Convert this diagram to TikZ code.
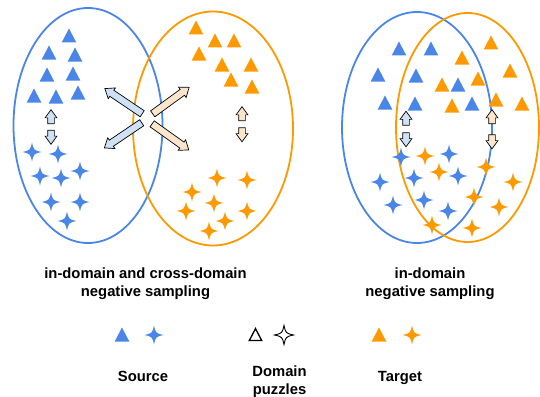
\documentclass[tikz,border=0pt]{standalone}
\usepackage{fontspec}
\setmainfont{Liberation Sans}
\usetikzlibrary{shapes.arrows}
\definecolor{cblue}{HTML}{4A86E8}
\definecolor{corange}{HTML}{FF9900}
\definecolor{lblue}{HTML}{CFE2F3}
\definecolor{lorange}{HTML}{FCE5CD}
\tikzset{
  tri/.pic={\path[pic actions] (0,-7.5) -- (7.3,6.5) -- (-7.3,6.5) -- cycle;},
  sparkle/.pic={\path[pic actions] (0,-9.5) .. controls (1.8,-1.8) .. (9.5,0) .. controls (1.8,1.8) .. (0,9.5) .. controls (-1.8,1.8) .. (-9.5,0) .. controls (-1.8,-1.8) .. (0,-9.5) -- cycle;},
  ring/.style={line width=1.8pt},
  bigarrow/.style={single arrow, draw=black, line width=0.7pt, inner sep=3.3pt, minimum height=45pt, single arrow head extend=2.8pt, single arrow tip angle=75},
  smallarrow/.style={single arrow, draw=black, line width=0.7pt, inner sep=3pt, minimum height=14pt, single arrow head extend=2.6pt, single arrow tip angle=72},
  lbl/.style={font=\bfseries\fontsize{14.8}{18}\selectfont, align=center, inner sep=0pt}
}
\begin{document}
\begin{tikzpicture}[x=1pt,y=-1pt]
\useasboundingbox (0,0) rectangle (540,396);
% ellipses
\draw[ring, cblue] (88,125.5) ellipse [x radius=74.5, y radius=117.5];
\draw[ring, corange] (213,128.5) ellipse [x radius=80, y radius=117];
\draw[ring, cblue] (417,127.5) ellipse [x radius=75, y radius=115.5];
\draw[ring, corange] (467.5,127.5) ellipse [x radius=71.5, y radius=114.5];
% left panel
\foreach \p in {(69,36),(49,53),(75,55),(47,75),(73,74),(34,96),(56,97),(78,93)} \pic[fill=cblue] at \p {tri};
\foreach \p in {(196,28),(215,41),(234,41),(199,54),(222,65),(251,65),(231,80),(252,87)} \pic[fill=corange] at \p {tri};
\foreach \p in {(32,152),(58,154),(40,176),(61,178),(80,171),(51,202),(80,202),(67,221)} \pic[fill=cblue] at \p {sparkle};
\foreach \p in {(217,178),(247,180),(192,192),(214,203),(186,211),(247,211),(225,221),(209,231)} \pic[fill=corange] at \p {sparkle};
% right panel
\foreach \p in {(399,49),(431,49),(378,75),(416,76),(385,103),(415,104),(458,85),(472,104)} \pic[fill=cblue] at \p {tri};
\foreach \p in {(491,43),(462,58),(510,71),(478,79),(442,85),(496,100),(452,106),(522,104)} \pic[fill=corange] at \p {tri};
\foreach \p in {(401,157),(449,154),(380,182),(414,178),(458,176),(424,200),(393,205),(448,211)} \pic[fill=cblue] at \p {sparkle};
\foreach \p in {(425,156),(439,172),(486,167),(513,182),(474,197),(499,207),(432,225),(472,228)} \pic[fill=corange] at \p {sparkle};
% cross arrows
\node[bigarrow, fill=lblue, rotate=146] (b1) at (125.5,102.5) {};
\node[bigarrow, fill=lblue, rotate=214] (b2) at (125,134) {};
\node[bigarrow, fill=lorange, rotate=36] (o1) at (169,102) {};
\node[bigarrow, fill=lorange, rotate=-35.5] (o2) at (168.5,135.5) {};
% small arrows
\node[smallarrow, fill=lblue, rotate=90] (lbu) at (51,119) {};
\node[smallarrow, fill=lblue, rotate=-90] (lbd) at (51,135) {};
\node[smallarrow, fill=lorange, rotate=90] (lou) at (242,116) {};
\node[smallarrow, fill=lorange, rotate=-90] (lod) at (242,132.5) {};
\node[smallarrow, fill=lblue, rotate=90] (rbu) at (406,120.5) {};
\node[smallarrow, fill=lblue, rotate=-90] (rbd) at (406,137.5) {};
\node[smallarrow, fill=lorange, rotate=90] (rou) at (492,119) {};
\node[smallarrow, fill=lorange, rotate=-90] (rod) at (492,139.5) {};
% captions
\node[lbl] (capl) at (145.5,284) {in-domain and cross-domain\\negative sampling};
\node[lbl] (capr) at (430,284) {in-domain\\negative sampling};
% legend
\pic[fill=cblue] at (122,335) {tri};
\pic[fill=cblue] at (154,335) {sparkle};
\pic[draw=black, fill=white, line width=1.3pt, scale=0.85] at (255.5,335) {tri};
\pic[draw=black, fill=white, line width=0.9pt] at (284,335) {sparkle};
\pic[fill=corange] at (379,335) {tri};
\pic[fill=corange] at (412,335) {sparkle};
\node[lbl] (src) at (143,376) {Source};
\node[lbl] (dom) at (279.5,381.5) {Domain\\puzzles};
\node[lbl] (tgt) at (400,378) {Target};
\end{tikzpicture}
\end{document}
